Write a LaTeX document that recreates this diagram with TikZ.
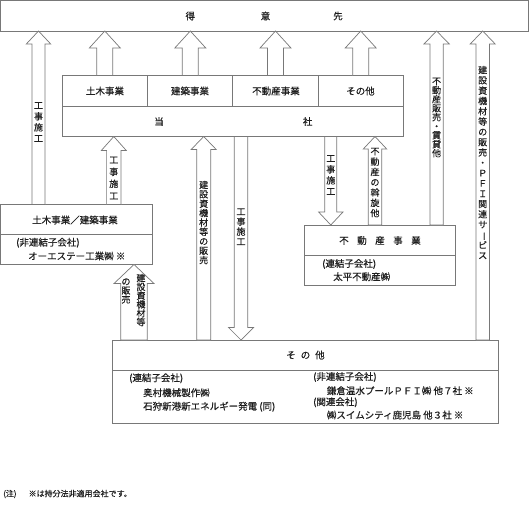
\documentclass[tikz,border=0pt]{standalone}
\usepackage{fontspec}
\setmainfont{Noto Sans CJK JP}[FakeBold=0.4]
\usetikzlibrary{calc}
\definecolor{lc}{RGB}{120,120,120}
\definecolor{tc}{RGB}{30,30,30}
\tikzset{
 box/.style={draw=lc, line width=0.7pt, inner sep=0pt, outer sep=0pt},
 blk/.style={draw=lc, line width=0.7pt, fill=white},
 lbl/.style={font=\fontsize{9.5}{11}\selectfont, text=tc, inner sep=0pt},
 lw/.style={lbl, anchor=west},
 vt/.style={align=center, inner sep=0pt, text=tc, font=\fontsize{9}{#1}\selectfont},
}
\newcommand\barr[6]{%
 \draw[blk] let \p1=(#2), \p2=(#3), \n1={sign(\y2-\y1)} in
 ({#1pt-#4pt},\y1) -- ({#1pt-#4pt},{\y2-(\n1)*#6pt}) -- ({#1pt-#5pt},{\y2-(\n1)*#6pt}) -- ({#1pt},\y2) -- ({#1pt+#5pt},{\y2-(\n1)*#6pt}) -- ({#1pt+#4pt},{\y2-(\n1)*#6pt}) -- ({#1pt+#4pt},\y1) -- cycle;}
\newcommand\vbar{\rotatebox[origin=c]{-90}{ー}}
\begin{document}
\begin{tikzpicture}[x=1pt,y=-1pt]
\useasboundingbox (0,0) rectangle (530,509);
% boxes
\node[box, minimum width=528pt, minimum height=30.5pt] (tp) at (264.5,15.75) {};
\node[box, minimum width=341pt, minimum height=61pt] (tosha) at (232.5,106) {};
\node[box, minimum width=151.5pt, minimum height=60pt] (lb) at (76.25,234.5) {};
\node[box, minimum width=151.4pt, minimum height=60.7pt] (rb) at (380,255.35) {};
\node[box, minimum width=385.6pt, minimum height=83.3pt] (ob) at (305.5,381.65) {};
% dividers
\draw[box] (tosha.west |- 0,106) -- (tosha.east |- 0,106);
\draw[box] (147.7,0 |- tosha.north) -- (147.7,106);
\draw[box] (232.7,0 |- tosha.north) -- (232.7,106);
\draw[box] (318.3,0 |- tosha.north) -- (318.3,106);
\draw[box] (lb.west |- 0,234) -- (lb.east |- 0,234);
\draw[box] (rb.west |- 0,255.7) -- (rb.east |- 0,255.7);
\draw[box] (ob.west |- 0,370) -- (ob.east |- 0,370);
% arrows
\barr{38.5}{lb.north}{tp.south}{6.5}{12.2}{13}
\barr{104.8}{tosha.north}{tp.south}{8}{15.5}{17}
\barr{190.3}{tosha.north}{tp.south}{8}{15.5}{17}
\barr{275.5}{tosha.north}{tp.south}{8}{15.5}{17}
\barr{360.7}{tosha.north}{tp.south}{8}{15.5}{17}
\barr{436.6}{rb.north}{tp.south}{6.7}{12.7}{13}
\barr{482.7}{ob.north}{tp.south}{6.7}{12.5}{13}
\barr{113.8}{lb.north}{tosha.south}{7.2}{12.5}{14}
\barr{203.7}{ob.north}{tosha.south}{7}{12.5}{13}
\barr{241}{tosha.south}{ob.north}{6.7}{12.5}{12.5}
\barr{134}{ob.north}{lb.south}{13.2}{20}{19}
\barr{330.8}{tosha.south}{rb.north}{6}{12.2}{13}
\barr{375}{rb.north}{tosha.south}{6.7}{11.7}{12.5}
% texts
\node[lbl] (t1) at (190.3,16) {得};
\node[lbl] (t2) at (265.5,16) {意};
\node[lbl] (t3) at (338,16) {先};
\node[lbl] (c1) at (105,91) {土木事業};
\node[lbl] (c2) at (190,91) {建築事業};
\node[lbl] (c3) at (276,91) {不動産事業};
\node[lbl] (c4) at (360.5,91) {その他};
\node[lbl] (s1) at (159,121.5) {当};
\node[lbl] (s2) at (307.7,121.5) {社};
\node[lbl] (lbt) at (75,220) {土木事業／建築事業};
\node[lw] (lb1) at (16,242.7) {(非連結子会社)};
\node[lw] (lb2) at (28,256) {オーエステー工業㈱ ※};
\node[lbl] (rbt) at (380,240.5) {不\hspace{8.5pt}動\hspace{8.5pt}産\hspace{8.5pt}事\hspace{8.5pt}業};
\node[lw] (rb1) at (322,264) {(連結子会社)};
\node[lw] (rb2) at (333,276.7) {太平不動産㈱};
\node[lbl] (obt) at (305.5,355) {そ\hspace{5pt}の\hspace{5pt}他};
\node[lw] (ob1) at (129,378.3) {(連結子会社)};
\node[lw] (ob2) at (143,392.7) {奥村機械製作㈱};
\node[lw] (ob3) at (143,406.7) {石狩新港新エネルギー発電 (同)};
\node[lw] (ob4) at (313,377) {(非連結子会社)};
\node[lw] (ob5) at (326.7,390.7) {鎌倉温水プールＰＦＩ㈱ 他７社 ※};
\node[lw] (ob6) at (313,402.3) {(関連会社)};
\node[lw] (ob7) at (326.7,415) {㈱スイムシティ鹿児島 他３社 ※};
% vertical texts
\node[vt=11] (v1) at (38.5,122) {工\\事\\施\\工};
\node[vt=12] (v2) at (113.8,178) {工\\事\\施\\工};
\node[vt=9.4] (v3) at (203.7,222.5) {建\\設\\資\\機\\材\\等\\の\\販\\売};
\node[vt=10] (v4) at (241,226.7) {工\\事\\施\\工};
\node[vt=11] (v5) at (330.8,175) {工\\事\\施\\工};
\node[vt=10.3] (v6) at (375,182.5) {不\\動\\産\\の\\斡\\旋\\他};
\node[vt=9] (v7) at (436.6,117.5) {不\\動\\産\\販\\売\\・\\賃\\貸\\他};
\node[vt=10.3] (v8) at (482.7,162.5) {建\\設\\資\\機\\材\\等\\の\\販\\売\\・\\Ｐ\\Ｆ\\Ｉ\\関\\連\\サ\\\vbar\\ビ\\ス};
\node[vt=8.8] (v9) at (141,300) {建\\設\\資\\機\\材\\等};
\node[vt=9] (v10) at (126,291) {の\\販\\売};
% note
\node[anchor=west, inner sep=0pt, text=tc, font=\fontsize{8}{9}\selectfont] (note) at (3,494) {(注)\hspace{12pt}※は持分法非適用会社です。};
\end{tikzpicture}
\end{document}
